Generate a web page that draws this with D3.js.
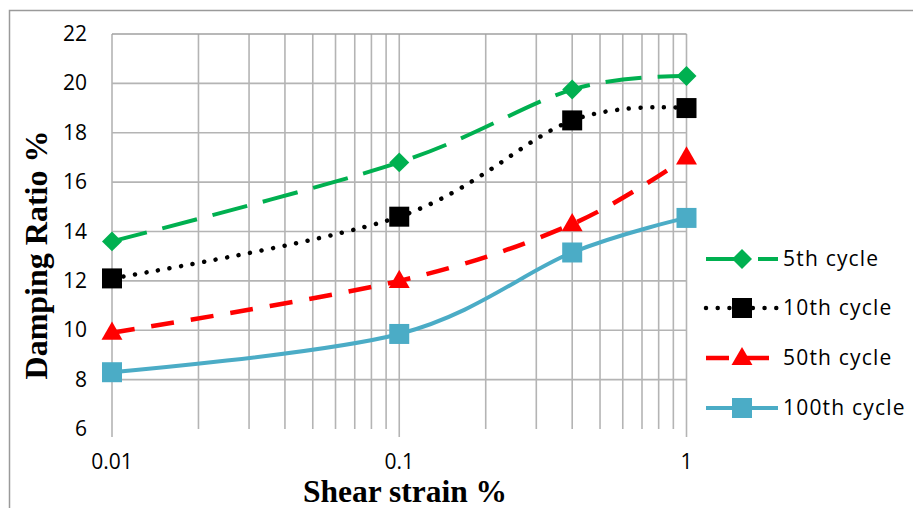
<!DOCTYPE html>
<html>
<head>
<meta charset="utf-8">
<script src="https://cdn.jsdelivr.net/npm/d3@7"></script>
<style>
  html, body { margin: 0; padding: 0; background: #fff; }
  svg { display: block; }
</style>
</head>
<body>
<svg id="chart" width="913" height="508"></svg>
<script>
// Shear strain (%) at which damping was measured
const strains = [0.01, 0.1, 0.4, 1];

// Damping ratio (%) for each loading cycle
const cycle5 = [13.6, 16.8, 19.75, 20.3];
const cycle10 = [12.1, 14.6, 18.5, 19.0];
const cycle50 = [9.9, 12.0, 14.3, 17.0];
const cycle100 = [8.3, 9.85, 13.15, 14.55];

const seriesNames = ["5th cycle", "10th cycle", "50th cycle", "100th cycle"];

// Axis ticks
const yTicks = [6, 8, 10, 12, 14, 16, 18, 20, 22];
const xMajorTicks = [0.01, 0.1, 1];
const xTickLabels = ["0.01", "0.1", "1"];

const svg = d3.select("#chart");
const plot = { left: 112, right: 686.5, top: 34, bottom: 429 };

const x = d3.scaleLog().domain([0.01, 1]).range([plot.left, plot.right]);
const y = d3.scaleLinear().domain([6, 22]).range([plot.bottom, plot.top]);

// Outer frame
svg.append("rect")
  .attr("x", 9.5).attr("y", 10.5)
  .attr("width", 1000).attr("height", 600)
  .attr("fill", "#fff")
  .attr("stroke", "#9a9a9a").attr("stroke-width", 1.5);

const grid = svg.append("g");
const gridColor = "#b4b4b4";

// Vertical grid lines at every log step
const xGrid = [];
[0.01, 0.1].forEach(d => { for (let k = 1; k <= 9; k++) xGrid.push(+(d * k).toPrecision(3)); });
xGrid.push(1);
grid.selectAll("line.vx").data(xGrid).join("line")
  .attr("x1", d => x(d)).attr("x2", d => x(d))
  .attr("y1", plot.top).attr("y2", plot.bottom)
  .attr("stroke", gridColor).attr("stroke-width", 1.6);

// Horizontal grid lines
grid.selectAll("line.hy").data(yTicks.filter(d => d > 6)).join("line")
  .attr("x1", plot.left).attr("x2", plot.right)
  .attr("y1", d => y(d)).attr("y2", d => y(d))
  .attr("stroke", d => d === 22 ? "#a0a0a0" : gridColor).attr("stroke-width", 1.6);

// Major x ticks below the plot
grid.selectAll("line.tk").data(xMajorTicks).join("line")
  .attr("x1", d => x(d)).attr("x2", d => x(d))
  .attr("y1", plot.bottom).attr("y2", plot.bottom + 8)
  .attr("stroke", gridColor).attr("stroke-width", 1.6);

// Tick labels
const tickFont = "'Open Sans', Lato, sans-serif";
svg.append("g").selectAll("text").data(yTicks).join("text")
  .attr("x", 87).attr("y", d => y(d) + 7)
  .attr("text-anchor", "end")
  .attr("font-family", tickFont).attr("font-size", 21)
  .attr("fill", "#000")
  .text(d => d);

svg.append("g").selectAll("text").data(xMajorTicks).join("text")
  .attr("x", d => x(d)).attr("y", 469)
  .attr("text-anchor", "middle")
  .attr("font-family", tickFont).attr("font-size", 21)
  .attr("fill", "#000")
  .text((d, i) => xTickLabels[i]);

// Axis titles
svg.append("text")
  .attr("x", 405).attr("y", 502)
  .attr("text-anchor", "middle")
  .attr("font-family", "'Liberation Serif', 'Times New Roman', serif")
  .attr("font-weight", "bold").attr("font-size", 31.5)
  .text("Shear strain %");

svg.append("text")
  .attr("transform", "translate(47,255) rotate(-90)")
  .attr("text-anchor", "middle")
  .attr("font-family", "'Liberation Serif', 'Times New Roman', serif")
  .attr("font-weight", "bold").attr("font-size", 32)
  .text("Damping Ratio %");

// Series styling
const styles = [
  { values: cycle5, color: "#00B050", width: 4, dash: "36 16", cap: "butt", marker: "diamond" },
  { values: cycle10, color: "#000000", width: 4.5, dash: "0.01 11.7", cap: "round", marker: "square" },
  { values: cycle50, color: "#FF0000", width: 4.5, dash: "23 17", cap: "butt", marker: "triangle" },
  { values: cycle100, color: "#4BACC6", width: 4, dash: null, cap: "butt", marker: "square" }
];

const symbolFor = {
  diamond: d3.symbol().type(d3.symbolSquare).size(200),
  square: d3.symbol().type(d3.symbolSquare).size(400),
  triangle: d3.symbol().type(d3.symbolTriangle).size(190)
};

const line = d3.line()
  .x(d => x(d[0]))
  .y(d => y(d[1]))
  .curve(d3.curveCardinal.tension(0));

function drawMarker(g, type, cx, cy, color) {
  const p = g.append("path")
    .attr("d", symbolFor[type]())
    .attr("fill", color);
  if (type === "diamond") p.attr("transform", `translate(${cx},${cy}) rotate(45)`);
  else if (type === "triangle") p.attr("transform", `translate(${cx},${cy + 1})`);
  else p.attr("transform", `translate(${cx},${cy})`);
  return p;
}

const seriesG = svg.append("g");
styles.forEach(s => {
  const pts = strains.map((v, i) => [v, s.values[i]]);
  seriesG.append("path")
    .attr("d", line(pts))
    .attr("fill", "none")
    .attr("stroke", s.color)
    .attr("stroke-width", s.width)
    .attr("stroke-linecap", s.cap)
    .attr("stroke-dasharray", s.dash);
});
styles.forEach(s => {
  const g = seriesG.append("g");
  strains.forEach((v, i) => drawMarker(g, s.marker, x(v), y(s.values[i]), s.color));
});

// Legend
const legendY = [259, 308, 358, 408];
const legend = svg.append("g");
styles.forEach((s, i) => {
  const ly = legendY[i];
  legend.append("line")
    .attr("x1", 706).attr("x2", 778)
    .attr("y1", ly).attr("y2", ly)
    .attr("stroke", s.color)
    .attr("stroke-width", s.width)
    .attr("stroke-linecap", s.cap)
    .attr("stroke-dasharray", s.dash);
  drawMarker(legend, s.marker, 742, ly, s.color);
  legend.append("text")
    .attr("x", 783).attr("y", ly + 7)
    .attr("font-family", tickFont).attr("font-size", 21)
    .attr("letter-spacing", 1.2)
    .attr("fill", "#000")
    .text(seriesNames[i]);
});
</script>
</body>
</html>
